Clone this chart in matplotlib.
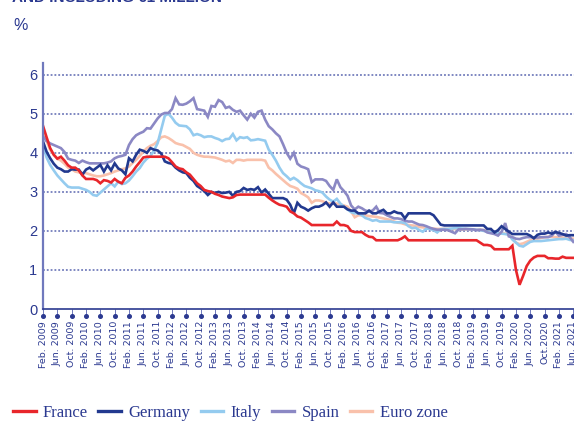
import matplotlib
matplotlib.use("Agg")
import matplotlib.pyplot as plt
import numpy as np

# Monthly series, Feb. 2009 to Jun. 2021 (%)
france = [
    4.69, 4.40, 4.12, 3.95, 3.85, 3.90, 3.80, 3.68, 3.62, 3.62, 3.55, 3.42,
    3.33, 3.33, 3.33, 3.30, 3.22, 3.30, 3.28, 3.24, 3.33, 3.26, 3.22, 3.36,
    3.42, 3.52, 3.65, 3.76, 3.88, 3.90, 3.90, 3.90, 3.90, 3.90, 3.90, 3.86,
    3.76, 3.65, 3.60, 3.58, 3.50, 3.44, 3.33, 3.22, 3.15, 3.05, 3.02, 3.00,
    2.95, 2.92, 2.88, 2.86, 2.84, 2.86, 2.92, 2.93, 2.93, 2.93, 2.93, 2.93,
    2.93, 2.93, 2.93, 2.85, 2.78, 2.72, 2.67, 2.65, 2.62, 2.50, 2.45, 2.37,
    2.34, 2.28, 2.22, 2.15, 2.15, 2.15, 2.15, 2.15, 2.15, 2.15, 2.24, 2.15,
    2.15, 2.12, 2.00, 1.97, 1.97, 1.97, 1.90, 1.85, 1.84, 1.76, 1.76, 1.76,
    1.76, 1.76, 1.76, 1.76, 1.80, 1.86, 1.76, 1.76, 1.76, 1.76, 1.76, 1.76,
    1.76, 1.76, 1.76, 1.76, 1.76, 1.76, 1.76, 1.76, 1.76, 1.76, 1.76, 1.76,
    1.76, 1.76, 1.70, 1.64, 1.64, 1.62, 1.53, 1.53, 1.53, 1.53, 1.53, 1.62,
    1.00, 0.62, 0.85, 1.10, 1.24, 1.32, 1.36, 1.36, 1.36, 1.30, 1.30, 1.29,
    1.29, 1.34, 1.31, 1.31, 1.31,
]
germany = [
    4.29, 4.03, 3.86, 3.72, 3.62, 3.58, 3.52, 3.52, 3.58, 3.57, 3.57, 3.44,
    3.57, 3.62, 3.55, 3.62, 3.69, 3.52, 3.68, 3.55, 3.73, 3.60, 3.55, 3.45,
    3.86, 3.78, 3.95, 4.08, 4.05, 4.00, 4.12, 4.08, 4.06, 3.98, 3.78, 3.74,
    3.72, 3.62, 3.55, 3.50, 3.48, 3.36, 3.28, 3.15, 3.09, 3.02, 2.92, 3.00,
    2.97, 3.00, 2.97, 2.98, 3.00, 2.90, 3.00, 3.02, 3.10, 3.05, 3.07, 3.05,
    3.12, 2.98, 3.06, 2.95, 2.84, 2.84, 2.84, 2.84, 2.80, 2.67, 2.45, 2.72,
    2.62, 2.58, 2.52, 2.58, 2.62, 2.62, 2.66, 2.73, 2.62, 2.73, 2.62, 2.62,
    2.62, 2.55, 2.52, 2.52, 2.45, 2.45, 2.45, 2.52, 2.45, 2.45, 2.50, 2.54,
    2.45, 2.45, 2.50, 2.46, 2.45, 2.32, 2.45, 2.45, 2.45, 2.45, 2.45, 2.45,
    2.45, 2.40, 2.28, 2.16, 2.14, 2.14, 2.14, 2.14, 2.14, 2.14, 2.14, 2.14,
    2.14, 2.14, 2.14, 2.14, 2.05, 2.05, 1.96, 2.02, 2.12, 2.05, 1.98, 1.92,
    1.92, 1.92, 1.92, 1.92, 1.88, 1.81, 1.90, 1.93, 1.93, 1.96, 1.93, 1.97,
    1.95, 1.92, 1.88, 1.89, 1.89,
]
italy = [
    4.20, 3.88, 3.69, 3.55, 3.42, 3.32, 3.22, 3.13, 3.11, 3.11, 3.11, 3.08,
    3.05, 3.00, 2.92, 2.90, 2.98, 3.06, 3.14, 3.22, 3.14, 3.26, 3.20, 3.22,
    3.29, 3.40, 3.52, 3.61, 3.75, 3.85, 3.92, 4.06, 4.25, 4.60, 4.95, 5.00,
    4.90, 4.77, 4.70, 4.69, 4.68, 4.60, 4.45, 4.48, 4.45, 4.40, 4.42, 4.42,
    4.38, 4.35, 4.30, 4.35, 4.36, 4.48, 4.32, 4.40, 4.38, 4.40, 4.32, 4.33,
    4.35, 4.33, 4.31, 4.08, 3.95, 3.80, 3.62, 3.48, 3.40, 3.31, 3.36, 3.30,
    3.22, 3.15, 3.12, 3.09, 3.04, 3.02, 2.98, 2.88, 2.80, 2.75, 2.82, 2.70,
    2.62, 2.55, 2.48, 2.45, 2.45, 2.40, 2.33, 2.30, 2.26, 2.28, 2.24, 2.24,
    2.24, 2.24, 2.22, 2.22, 2.22, 2.20, 2.12, 2.07, 2.08, 2.02, 1.98, 2.06,
    2.05, 2.02, 1.96, 2.04, 2.05, 2.05, 2.06, 2.07, 2.07, 2.06, 2.05, 2.05,
    2.04, 2.03, 2.02, 2.00, 1.98, 1.97, 1.95, 1.94, 1.93, 1.92, 1.90, 1.78,
    1.70, 1.62, 1.60, 1.66, 1.72, 1.74, 1.74, 1.74, 1.75, 1.76, 1.77, 1.78,
    1.79, 1.79, 1.80, 1.77, 1.76,
]
spain = [
    4.42, 4.30, 4.24, 4.20, 4.16, 4.12, 4.02, 3.85, 3.82, 3.80, 3.74, 3.80,
    3.76, 3.73, 3.73, 3.73, 3.73, 3.73, 3.75, 3.78, 3.86, 3.90, 3.92, 3.95,
    4.20, 4.35, 4.45, 4.50, 4.54, 4.63, 4.62, 4.75, 4.88, 4.98, 5.02, 5.02,
    5.12, 5.40, 5.24, 5.23, 5.26, 5.32, 5.40, 5.12, 5.10, 5.08, 4.92, 5.20,
    5.18, 5.35, 5.30, 5.15, 5.18, 5.10, 5.05, 5.08, 4.96, 4.85, 5.00, 4.90,
    5.05, 5.08, 4.85, 4.68, 4.60, 4.50, 4.42, 4.22, 4.00, 3.85, 4.00, 3.72,
    3.65, 3.62, 3.58, 3.25, 3.32, 3.32, 3.32, 3.28, 3.15, 3.05, 3.32, 3.12,
    3.02, 2.90, 2.65, 2.55, 2.62, 2.58, 2.52, 2.50, 2.52, 2.62, 2.46, 2.45,
    2.40, 2.36, 2.32, 2.32, 2.30, 2.26, 2.24, 2.24, 2.20, 2.16, 2.15, 2.12,
    2.08, 2.05, 2.03, 2.03, 2.03, 2.02, 1.98, 1.94, 2.04, 2.04, 2.05, 2.04,
    2.04, 2.02, 2.03, 2.02, 1.96, 1.94, 1.92, 1.88, 1.98, 2.20, 1.86, 1.84,
    1.80, 1.79, 1.82, 1.84, 1.84, 1.83, 1.83, 1.84, 1.84, 1.84, 1.88, 1.98,
    1.88, 1.90, 1.92, 1.84, 1.72,
]
euro_zone = [
    4.50, 4.30, 4.08, 3.95, 3.85, 3.80, 3.72, 3.62, 3.58, 3.52, 3.50, 3.48,
    3.48, 3.45, 3.42, 3.40, 3.40, 3.42, 3.45, 3.48, 3.52, 3.55, 3.58, 3.60,
    3.65, 3.74, 3.82, 3.92, 4.03, 4.12, 4.18, 4.22, 4.30, 4.40, 4.42, 4.38,
    4.32, 4.25, 4.22, 4.20, 4.15, 4.10, 4.00, 3.95, 3.92, 3.90, 3.90, 3.89,
    3.88, 3.85, 3.82, 3.78, 3.80, 3.74, 3.82, 3.82, 3.80, 3.82, 3.82, 3.82,
    3.82, 3.82, 3.80, 3.62, 3.55, 3.46, 3.38, 3.30, 3.22, 3.15, 3.12, 3.08,
    2.97, 2.92, 2.86, 2.72, 2.78, 2.78, 2.76, 2.72, 2.70, 2.70, 2.70, 2.68,
    2.65, 2.62, 2.50, 2.35, 2.40, 2.40, 2.40, 2.38, 2.37, 2.36, 2.34, 2.32,
    2.30, 2.28, 2.24, 2.21, 2.20, 2.17, 2.15, 2.14, 2.13, 2.10, 2.09, 2.08,
    2.07, 2.06, 2.05, 2.05, 2.05, 2.05, 2.05, 2.05, 2.04, 2.04, 2.04, 2.04,
    2.04, 2.03, 2.03, 2.02, 2.00, 1.98, 1.96, 1.94, 1.94, 1.93, 1.92, 1.80,
    1.70, 1.66, 1.68, 1.72, 1.76, 1.78, 1.80, 1.82, 1.84, 1.85, 1.85, 1.84,
    1.84, 1.83, 1.82, 1.81, 1.80,
]

tick_labels = [
    "Feb. 2009", "Jun. 2009", "Oct. 2009", "Feb. 2010", "Jun. 2010", "Oct. 2010",
    "Feb. 2011", "Jun. 2011", "Oct. 2011", "Feb. 2012", "Jun. 2012", "Oct. 2012",
    "Feb. 2013", "Jun. 2013", "Oct. 2013", "Feb. 2014", "Jun. 2014", "Oct. 2014",
    "Feb. 2015", "Jun. 2015", "Oct. 2015", "Feb. 2016", "Jun. 2016", "Oct. 2016",
    "Feb. 2017", "Jun. 2017", "Oct. 2017", "Feb. 2018", "Jun. 2018", "Oct. 2018",
    "Feb. 2019", "Jun. 2019", "Oct. 2019", "Feb. 2020", "Jun. 2020", "Oct.2020",
    "Feb. 2021", "Jun. 2021",
]

NAVY = "#2b3990"
series = [
    ("Euro zone", euro_zone, "#f9c1ab"),
    ("Italy", italy, "#94cbef"),
    ("Spain", spain, "#8b88c4"),
    ("Germany", germany, "#22398f"),
    ("France", france, "#e8262b"),
]
legend_order = ["France", "Germany", "Italy", "Spain", "Euro zone"]

W, H = 574, 423
fig = plt.figure(figsize=(W / 100, H / 100), dpi=100)
ax = fig.add_axes([43 / W, 1 - 309 / H, 1 - 43 / W, (309 - 63) / H])

months = np.arange(len(france))
handles = {}
for name, vals, col in series:
    (ln,) = ax.plot(months, vals, color=col, lw=1.9, solid_joinstyle="miter", label=name)
    handles[name] = ln

ax.set_xlim(0, (W - 43) / 3.583)
ax.set_ylim(0, 6.3)

# Horizontal dotted grid
ax.set_yticks(range(0, 7))
for v in range(1, 7):
    ax.axhline(v, color="#5b67b0", lw=1.1, ls=(0, (1.2, 1.3)), zorder=0)

for s in ("top", "right"):
    ax.spines[s].set_visible(False)
ax.spines["left"].set_color("#7079bd")
ax.spines["left"].set_linewidth(1.6)
ax.spines["bottom"].set_color(NAVY)
ax.spines["bottom"].set_linewidth(1.2)

ax.tick_params(axis="y", length=0, pad=4, labelsize=10.5, labelcolor=NAVY)
for t in ax.get_yticklabels():
    t.set_family(["Liberation Sans", "DejaVu Sans"])

tick_pos = np.arange(0, len(france), 4)
ax.set_xticks(tick_pos)
ax.set_xticklabels(tick_labels, rotation=90, fontsize=6.8, color=NAVY,
                   family=["Liberation Sans Narrow", "DejaVu Sans"])
ax.tick_params(axis="x", length=5, width=0.7, color="#6f79bb", pad=3.5)
ax.plot(tick_pos, np.full(len(tick_pos), -0.18), "o", ms=2.6, color=NAVY,
        clip_on=False, zorder=5)

fig.text(13 / W, 1 - 30 / H, "%", fontsize=11.5, color=NAVY,
         family=["Liberation Sans", "DejaVu Sans"], va="baseline")
fig.text(12 / W, 1 - 1.5 / H, "AND INCLUDING €1 MILLION", fontsize=11,
         fontweight="bold", color=NAVY, family=["Liberation Sans", "DejaVu Sans"],
         va="baseline")

leg = fig.legend([handles[n] for n in legend_order], legend_order,
                 loc="center left", bbox_to_anchor=(13 / W, 1 - 413 / H),
                 ncol=5, frameon=False, borderaxespad=0, borderpad=0,
                 handlelength=1.35, handletextpad=0.45, columnspacing=0.62,
                 prop={"family": ["Liberation Serif", "DejaVu Serif"], "size": 12})
for t in leg.get_texts():
    t.set_color(NAVY)
for l in leg.get_lines():
    l.set_linewidth(2.4)

fig.savefig("out.png", dpi=100)
